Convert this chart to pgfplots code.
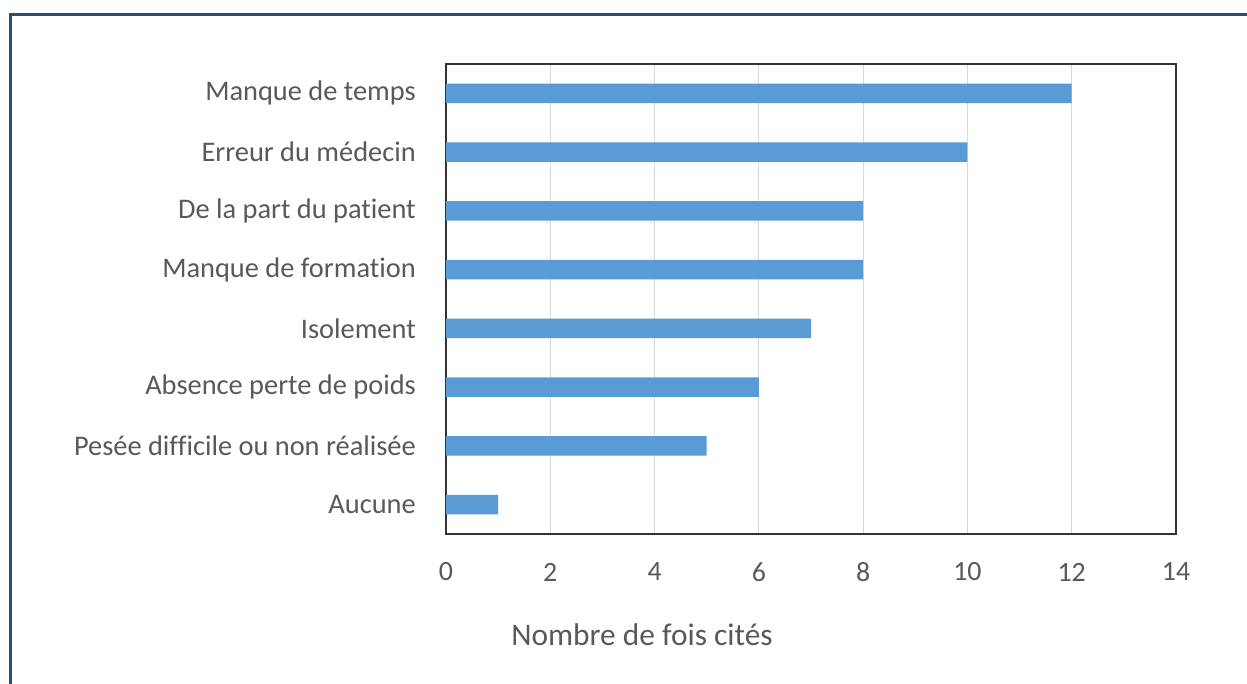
\documentclass[border=0pt]{standalone}
\usepackage{fontspec}
\setmainfont{Carlito}[Ligatures=NoCommon]
\usepackage{pgfplots}
\pgfplotsset{compat=1.18}
\definecolor{framebl}{HTML}{254E7E}
\definecolor{barbl}{HTML}{5B9BD5}
\definecolor{txtgray}{HTML}{595959}
\definecolor{gridgray}{HTML}{D9D9D9}
\begin{document}
\begin{tikzpicture}
\useasboundingbox (0,0) rectangle (1247bp,684bp);
\fill[white] (0,0) rectangle (1247bp,684bp);
\draw[line width=3.5bp, color=framebl] (10.5bp,0) -- (10.5bp,669.5bp) -- (1247bp,669.5bp);
\begin{axis}[
  at={(446bp,150bp)}, anchor=south west,
  scale only axis, width=730bp, height=470bp,
  xbar, bar width=19.5bp,
  xmin=0, xmax=14, ymin=-0.5, ymax=7.5,
  xtick={0,2,...,14},
  ytick={0,1,...,7},
  yticklabels={Aucune,Pesée difficile ou non réalisée,Absence perte de poids,Isolement,Manque de formation,De la part du patient,Erreur du médecin,Manque de temps},
  major tick length=0pt,
  xmajorgrids, major grid style={gridgray, line width=1bp},
  axis line style={black!80, line width=1.2bp},
  /pgf/number format/assume math mode=true,
  xticklabel style={font=\fontsize{28}{32}\selectfont, text=txtgray, anchor=center, yshift=-38bp},
  yticklabel style={font=\fontsize{28.5}{32}\selectfont, text=txtgray, anchor=east, inner sep=0pt, xshift=-30bp},
  xlabel={Nombre de fois cités},
  xlabel style={font=\fontsize{31.5}{36}\selectfont, text=txtgray, at={(axis description cs:0.2685,-0.215)}, anchor=center},
]
\addplot[fill=barbl, draw=none] coordinates {
(1,0) (5,1) (6,2) (7,3) (8,4) (8,5) (10,6) (12,7)
};
\end{axis}
\end{tikzpicture}
\end{document}
